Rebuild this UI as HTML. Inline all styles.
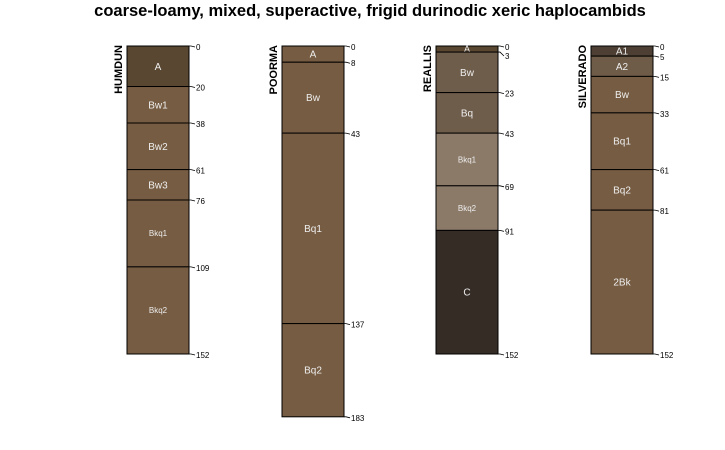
<!DOCTYPE html>
<html><head><meta charset="utf-8"><style>body{margin:0;background:#fff}svg{display:block}</style></head>
<body>
<svg id="c" width="725" height="450" xmlns="http://www.w3.org/2000/svg" font-family="Liberation Sans, sans-serif">
<text x="370" y="16" text-anchor="middle" font-size="16.5" font-weight="bold">coarse-loamy, mixed, superactive, frigid durinodic xeric haplocambids</text>
</svg>
<script>
const profileNames = ["HUMDUN","POORMA","REALLIS","SILVERADO"];
const horizonNames = [
 ["A","Bw1","Bw2","Bw3","Bkq1","Bkq2"],
 ["A","Bw","Bq1","Bq2"],
 ["A","Bw","Bq","Bkq1","Bkq2","C"],
 ["A1","A2","Bw","Bq1","Bq2","2Bk"]];
const horizonTops = [[0,20,38,61,76,109],[0,8,43,137],[0,3,23,43,69,91],[0,5,15,33,61,81]];
const horizonBottoms = [[20,38,61,76,109,152],[8,43,137,183],[3,23,43,69,91,152],[5,15,33,61,81,152]];
const horizonColors = [
 ["#5a4731","#765c42","#765c42","#765c42","#765c42","#765c42"],
 ["#765c42","#765c42","#765c42","#765c42"],
 ["#5a4731","#6f5d4b","#6f5d4b","#8b7a68","#8b7a68","#352c26"],
 ["#4d3f33","#6e5c48","#765c42","#765c42","#765c42","#765c42"]];
const svg=document.getElementById('c');const NS="http://www.w3.org/2000/svg";
const xLeft=[127,282,436,591], W=62, y0=46, k=308/152;
const y=d=>y0+d*k;
function mk(t,a,p){const e=document.createElementNS(NS,t);for(const q in a)e.setAttribute(q,a[q]);p.appendChild(e);return e;}
profileNames.forEach((nm,i)=>{
 const g=mk('g',{},svg);
 
 
 const x=xLeft[i];
 const lab=mk('text',{transform:`translate(${x-5},${y0-1}) rotate(-90)`,'text-anchor':'end','font-size':'11','font-weight':'bold'},g);
 lab.textContent=nm;
 
 
 let lastLab=-100;
 horizonNames[i].forEach((h,j)=>{
  const t=horizonTops[i][j],b=horizonBottoms[i][j];
  const r=mk('rect',{x:x,y:y(t),width:W,height:y(b)-y(t),fill:horizonColors[i][j],stroke:'#000','stroke-width':1},g);
  
  
  const th=y(b)-y(t);
  const fs=h.length>=4&&h.startsWith('B')?8:(th<10?9:10);
  const tx=mk('text',{x:x+W/2,y:(y(t)+y(b))/2+fs*0.35,'text-anchor':'middle','font-size':fs,fill:'#eee'},g);
  tx.textContent=h;
  
  
 });
 const depths=[horizonTops[i][0]].concat(horizonBottoms[i]);
 depths.forEach(d=>{
  const yy=y(d);let ly=Math.max(yy+1,lastLab+9);if(d===0)ly=yy+1;lastLab=ly;
  mk('path',{d:`M${x+W},${yy} L${x+W+2},${yy} L${x+W+6},${ly}`,stroke:'#000',fill:'none','stroke-width':0.8},g);
  const dt=mk('text',{x:x+W+7,y:ly+3,'font-size':8},g);
  dt.textContent=d;
  
  
 });
});
</script>
</body></html>
